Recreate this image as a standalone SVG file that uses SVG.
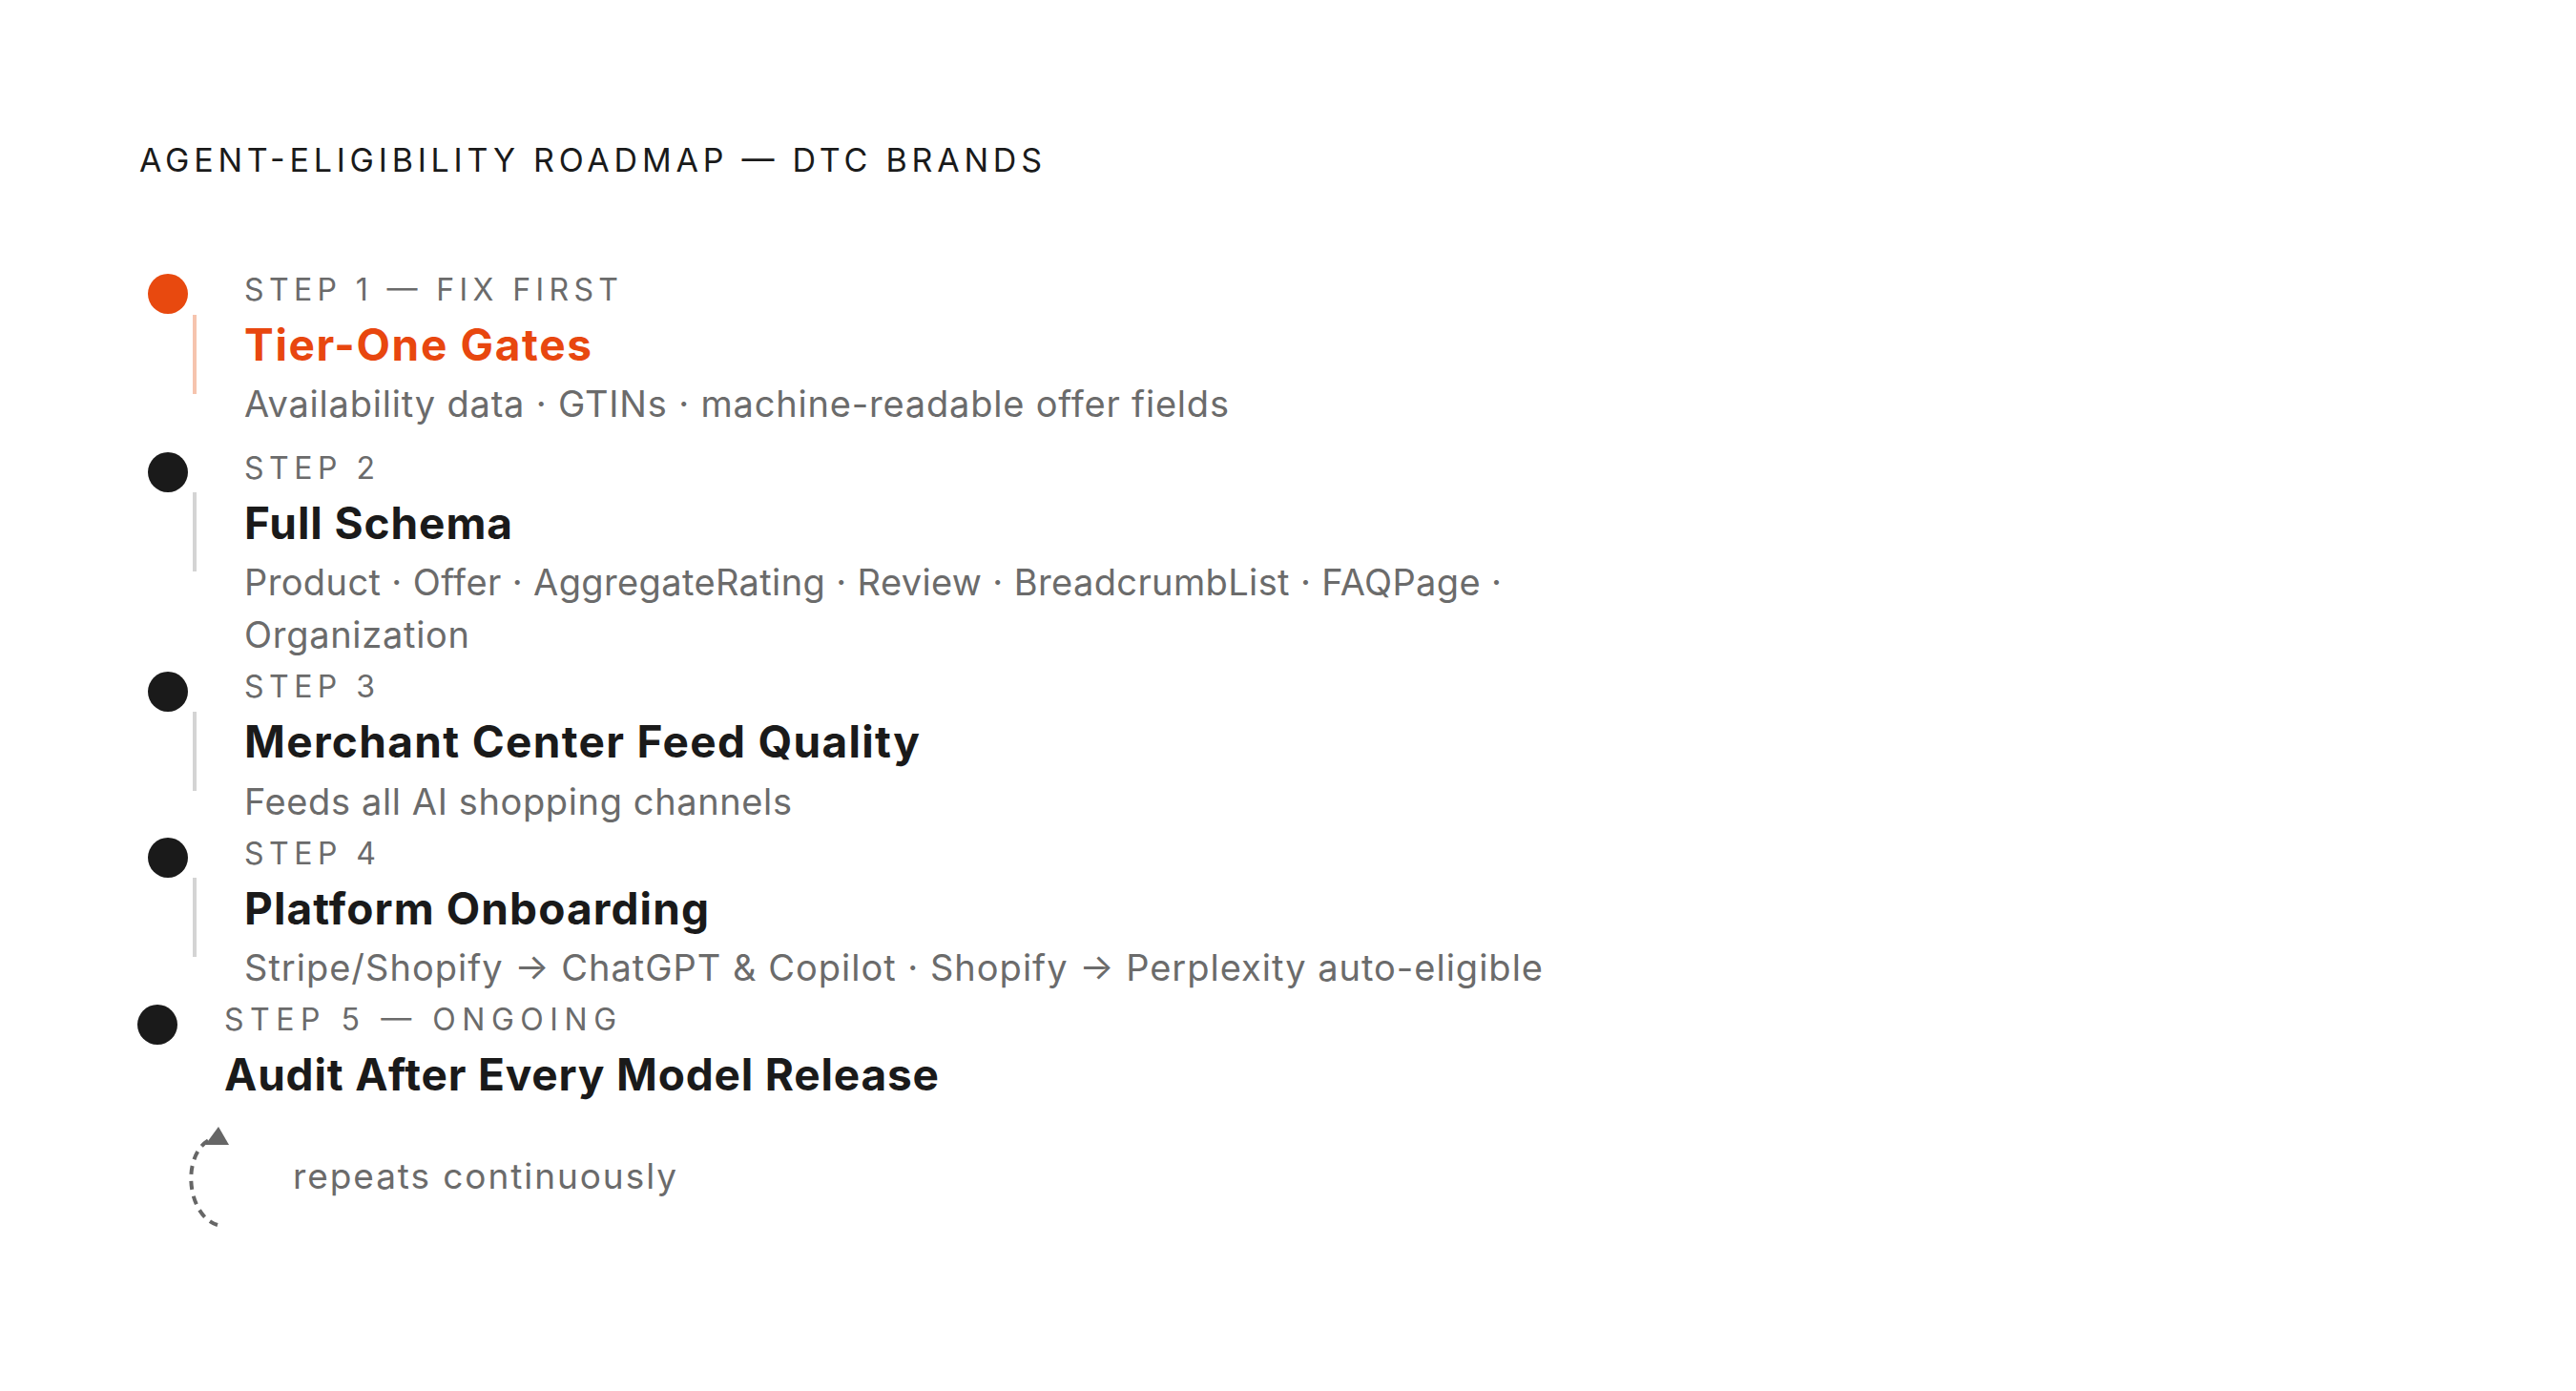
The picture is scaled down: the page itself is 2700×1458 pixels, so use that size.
<svg xmlns="http://www.w3.org/2000/svg" width="2700" height="1458" viewBox="0 0 2700 1458">
<style>
text{font-family:Inter,"DejaVu Sans",sans-serif}
.hdr{font-size:34px;fill:#1a1a1a;font-weight:400}
.lbl{font-size:32px;fill:#6b6b6b;font-weight:400}
.ttl{font-size:46px;fill:#1a1a1a;font-weight:700}
.ttl1{fill:#e8470f}
.dsc{font-size:38px;fill:#6b6b6b;font-weight:400}
.rep{font-size:37px;fill:#6b6b6b;font-weight:400}
.dot{fill:#1a1a1a}
.dot1{fill:#e8490f}
.rail{fill:#d4d4d4}
.rail1{fill:#f6c4ae}
.loop{fill:none;stroke:#666;stroke-width:4;stroke-dasharray:9 7}
.head{fill:#666}
</style>
<rect width="2700" height="1458" fill="#ffffff"/>
<g id="header">
<text class="hdr" x="146" y="180" textLength="946" lengthAdjust="spacing">AGENT-ELIGIBILITY ROADMAP — DTC BRANDS</text>
</g>
<g id="connectors">
<rect class="rail1" x="202" y="330" width="4" height="83"/>
<rect class="rail" x="202" y="516" width="4" height="83"/>
<rect class="rail" x="202" y="746" width="4" height="83"/>
<rect class="rail" x="202" y="920" width="4" height="83"/>
<path class="loop" d="M 228 1284 C 196 1274 190 1212 219 1195"/>
<polygon class="head" points="229,1181 215,1200 240,1200"/>
</g>
<g id="step1">
<circle class="dot1" cx="176" cy="308" r="21"/>
<text class="lbl" x="256" y="315" textLength="392" lengthAdjust="spacing">STEP 1 — FIX FIRST</text>
<text class="ttl ttl1" x="256" y="378" textLength="364" lengthAdjust="spacing">Tier-One Gates</text>
<text class="dsc" x="256" y="437" textLength="1032" lengthAdjust="spacing">Availability data · GTINs · machine-readable offer fields</text>
</g>
<g id="step2">
<circle class="dot" cx="176" cy="495" r="21"/>
<text class="lbl" x="256" y="502" textLength="137" lengthAdjust="spacing">STEP 2</text>
<text class="ttl" x="256" y="565" textLength="281" lengthAdjust="spacing">Full Schema</text>
<text class="dsc" x="256" y="624" textLength="1318" lengthAdjust="spacing">Product · Offer · AggregateRating · Review · BreadcrumbList · FAQPage ·</text>
<text class="dsc" x="256" y="679" textLength="236" lengthAdjust="spacing">Organization</text>
</g>
<g id="step3">
<circle class="dot" cx="176" cy="725" r="21"/>
<text class="lbl" x="256" y="731" textLength="137" lengthAdjust="spacing">STEP 3</text>
<text class="ttl" x="256" y="794" textLength="708" lengthAdjust="spacing">Merchant Center Feed Quality</text>
<text class="dsc" x="256" y="854" textLength="574" lengthAdjust="spacing">Feeds all AI shopping channels</text>
</g>
<g id="step4">
<circle class="dot" cx="176" cy="899" r="21"/>
<text class="lbl" x="256" y="906" textLength="138" lengthAdjust="spacing">STEP 4</text>
<text class="ttl" x="256" y="969" textLength="487" lengthAdjust="spacing">Platform Onboarding</text>
<text class="dsc" x="256" y="1028" textLength="1361" lengthAdjust="spacing">Stripe/Shopify → ChatGPT &amp; Copilot · Shopify → Perplexity auto-eligible</text>
</g>
<g id="step5">
<circle class="dot" cx="165" cy="1074" r="21"/>
<text class="lbl" x="235" y="1080" textLength="411" lengthAdjust="spacing">STEP 5 — ONGOING</text>
<text class="ttl" x="235" y="1143" textLength="749" lengthAdjust="spacing">Audit After Every Model Release</text>
<text class="rep" x="307" y="1246" textLength="402" lengthAdjust="spacing">repeats continuously</text>
</g>
</svg>
